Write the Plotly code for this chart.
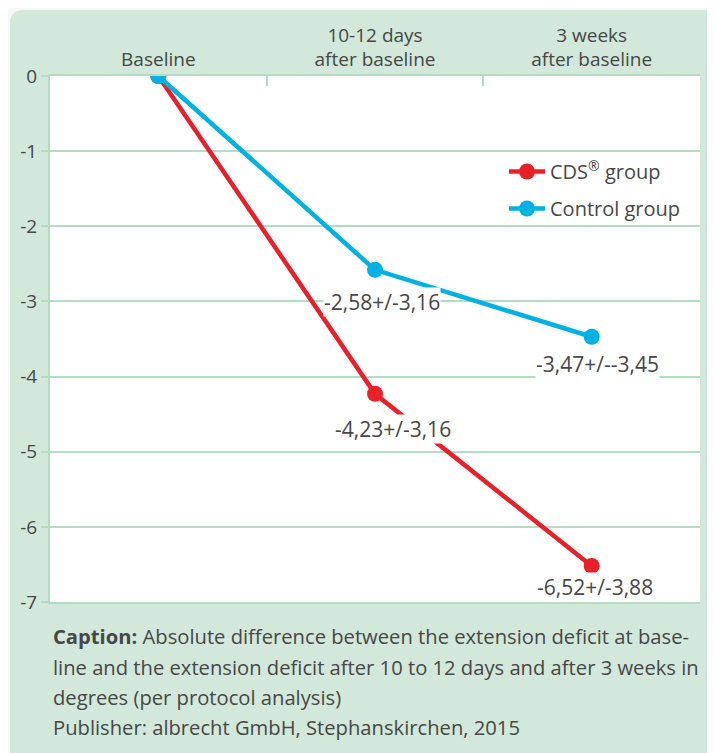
import plotly.graph_objects as go

categories = ["Baseline", "10-12 days<br>after baseline", "3 weeks<br>after baseline"]
cds_values = [0, -4.23, -6.52]
control_values = [0, -2.58, -3.47]
cds_labels = [None, "-4,23+/-3,16", "-6,52+/-3,88"]
control_labels = [None, "-2,58+/-3,16", "-3,47+/--3,45"]
y_tickvals = [0, -1, -2, -3, -4, -5, -6, -7]
y_ticktext = ["0", "-1", "-2", "-3", "-4", "-5", "-6", "-7"]
caption_lines = [
    "<b>Caption:</b> Absolute difference between the extension deficit at base-",
    "line and the extension deficit after 10 to 12 days and after 3 weeks in",
    "degrees (per protocol analysis)",
    "Publisher: albrecht GmbH, Stephanskirchen, 2015",
]

# page is offset by the 8px body margin
OFF = 8
PAGE_W, PAGE_H = 715, 753
W, H = PAGE_W - OFF, PAGE_H - OFF
PL, PR, PT, PB = 50, 700, 76, 602  # plot area in page pixels
L, R, T, B = PL - OFF, PAGE_W - PR, PT - OFF, PAGE_H - PB
PW, PH = PR - PL, PB - PT

def px(x):
    return (x - PL) / PW

def py(y):
    return (PB - y) / PH

RED = "#e8202a"
BLUE = "#00b2e3"
GREEN_BG = "#d1e8db"
GRID = "#b3dcc2"
TEXT = "#474747"
FONT = "Open Sans"
FS = 19

fig = go.Figure()
fig.add_trace(go.Scatter(
    x=categories, y=cds_values, name="CDS<sup>®</sup> group", mode="lines+markers",
    legendgroup="a",
    line=dict(color=RED, width=4.5), marker=dict(color=RED, size=16),
))
fig.add_trace(go.Scatter(
    x=categories, y=control_values, name="Control group", mode="lines+markers",
    legendgroup="b",
    line=dict(color=BLUE, width=4.5), marker=dict(color=BLUE, size=16),
))

# rounded green panel
r = 14
x0, y0, x1, y1 = 10, 10, 760, 800
path = (
    f"M {px(x0)},{py(y1)} L {px(x0)},{py(y0 + r)} "
    f"Q {px(x0)},{py(y0)} {px(x0 + r)},{py(y0)} "
    f"L {px(x1)},{py(y0)} L {px(x1)},{py(y1)} Z"
)
shapes = [
    dict(type="path", path=path, xref="paper", yref="paper",
         fillcolor=GREEN_BG, line=dict(width=0), layer="below"),
    dict(type="rect", xref="paper", yref="paper", x0=0, x1=1, y0=0, y1=1,
         fillcolor="white", line=dict(width=0), layer="below"),
]

annotations = []
label_offsets_cds = [None, (18, -35), (3, -21)]
label_offsets_ctl = [None, (7, -32), (6, -27)]
for cat, val, lab, off in zip(categories, cds_values, cds_labels, label_offsets_cds):
    if lab:
        annotations.append(dict(x=cat, y=val, text=lab, showarrow=False,
                                xshift=off[0], yshift=off[1], bgcolor="white",
                                borderpad=0, font=dict(size=21, color=TEXT, family=FONT)))
for cat, val, lab, off in zip(categories, control_values, control_labels, label_offsets_ctl):
    if lab:
        annotations.append(dict(x=cat, y=val, text=lab, showarrow=False,
                                xshift=off[0], yshift=off[1], bgcolor="white",
                                borderpad=0, font=dict(size=21, color=TEXT, family=FONT)))

caption_y = [636, 667, 697, 727]
for line, yy in zip(caption_lines, caption_y):
    annotations.append(dict(x=px(51), y=py(yy), xref="paper", yref="paper",
                            xanchor="left", yanchor="middle", text=line, showarrow=False,
                            font=dict(size=20.2, color=TEXT, family=FONT)))

fig.update_layout(
    width=W, height=H,
    margin=dict(l=L, r=R, t=T, b=B),
    paper_bgcolor="#f7f7f7",
    plot_bgcolor="white",
    font=dict(family=FONT, size=FS, color=TEXT),
    shapes=shapes,
    annotations=annotations,
    showlegend=True,
    legend=dict(x=px(504), y=py(152), xanchor="left", yanchor="top",
                bgcolor="rgba(0,0,0,0)", itemwidth=36, tracegroupgap=8,
                traceorder="grouped",
                font=dict(size=20, color=TEXT, family=FONT)),
    xaxis=dict(
        type="category", side="top", range=[-0.5, 2.5],
        showgrid=False, showline=True, mirror=True, linecolor=GRID, linewidth=2,
        ticks="inside", tickson="boundaries", ticklen=10, tickcolor=GRID, tickwidth=2,
        tickfont=dict(size=FS, color=TEXT, family=FONT),
    ),
    yaxis=dict(
        range=[-7, 0], tickvals=y_tickvals, ticktext=y_ticktext,
        showgrid=True, gridcolor=GRID, gridwidth=2, zeroline=False,
        showline=True, linecolor=GRID, linewidth=2,
        ticks="outside", ticklen=7, tickcolor=GRID, tickwidth=2,
        tickfont=dict(size=FS, color=TEXT, family=FONT),
    ),
)

fig.write_html("out.html")
